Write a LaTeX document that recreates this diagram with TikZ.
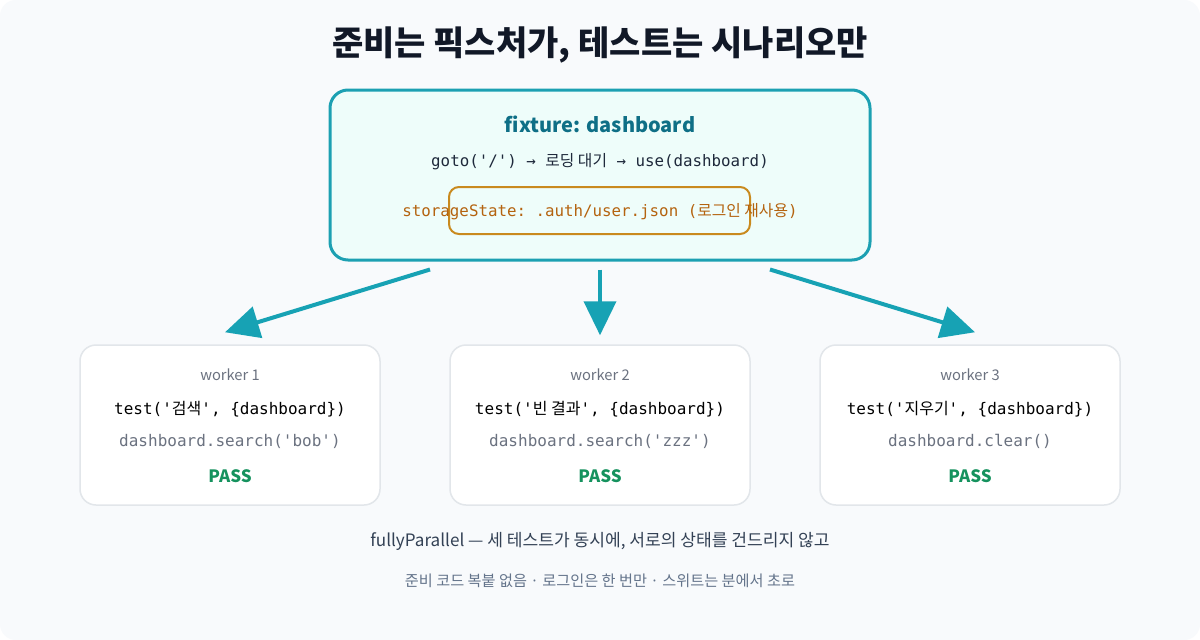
\documentclass[tikz,border=0pt]{standalone}
\usepackage{fontspec}
\setmainfont{Noto Sans CJK KR}
\setmonofont{DejaVu Sans Mono}
\newfontfamily\kr{Noto Sans CJK KR}
\usetikzlibrary{arrows.meta}
\definecolor{bgc}{HTML}{F8FAFC}
\definecolor{titlec}{HTML}{111827}
\definecolor{tealb}{HTML}{1CA0B2}
\definecolor{tealfill}{HTML}{EEFDFA}
\definecolor{tealtxt}{HTML}{0E6F86}
\definecolor{codec}{HTML}{1E293B}
\definecolor{orangeb}{HTML}{C98A1E}
\definecolor{orangetxt}{HTML}{B4630F}
\definecolor{wborder}{HTML}{E2E6EA}
\definecolor{graytxt}{HTML}{6B7280}
\definecolor{passc}{HTML}{15925E}
\definecolor{note1}{HTML}{334155}
\definecolor{note2}{HTML}{64748B}
\definecolor{arrowc}{HTML}{17A2B4}
\tikzset{
  fixbox/.style={draw=tealb, line width=3pt, fill=tealfill, rounded corners=18pt, minimum width=540pt, minimum height=170pt, inner sep=0pt},
  authbox/.style={draw=orangeb, line width=2pt, rounded corners=10pt, minimum width=301pt, minimum height=47pt, inner sep=0pt},
  workerbox/.style={draw=wborder, line width=1.5pt, fill=white, rounded corners=16pt, minimum width=300pt, minimum height=160pt, inner sep=0pt},
  txt/.style={inner sep=0pt, anchor=center},
  flow/.style={draw=arrowc, line width=4pt, -{Triangle[length=34pt,width=32pt]}},
}
\begin{document}
\begin{tikzpicture}[x=1pt,y=-1pt]
\fill[white] (0,0) rectangle (1200,640);
\useasboundingbox (0,0) rectangle (1200,640);
\fill[bgc, rounded corners=16pt] (0,0) rectangle (1200,640);

\node[txt, font=\fontsize{34pt}{38pt}\selectfont\bfseries, text=titlec] (title) at (600,45) {준비는 픽스처가, 테스트는 시나리오만};

\node[fixbox] (fix) at (600,175) {};
\node[txt, font=\fontsize{20pt}{24pt}\selectfont\bfseries, text=tealtxt] (fixt) at (600,124) {fixture: dashboard};
\node[txt, font=\fontsize{15.8pt}{19pt}\selectfont\ttfamily, text=codec] (fixs) at (600,162) {goto('/') → {\kr 로딩 대기} → use(dashboard)};
\node[authbox] (auth) at (599.5,210.5) {};
\node[txt, font=\fontsize{15.8pt}{19pt}\selectfont\ttfamily, text=orangetxt] (autht) at (600,212) {storageState: .auth/user.json ({\kr 로그인 재사용})};

\foreach \i/\x/\lbl/\tst/\act in {
  1/230/worker 1/{test('{\kr 검색}', \{dashboard\})}/{dashboard.search('bob')},
  2/600/worker 2/{test('{\kr 빈 결과}', \{dashboard\})}/{dashboard.search('zzz')},
  3/970/worker 3/{test('{\kr 지우기}', \{dashboard\})}/{dashboard.clear()}}{
  \node[workerbox] (w\i) at (\x,425) {};
  \node[txt, font=\fontsize{14.7pt}{17pt}\selectfont, text=graytxt] (w\i l) at (\x,375) {\lbl};
  \node[txt, font=\fontsize{16pt}{19pt}\selectfont\ttfamily, text=black] (w\i t) at (\x,409) {\tst};
  \node[txt, font=\fontsize{16pt}{19pt}\selectfont\ttfamily, text=graytxt] (w\i a) at (\x,441) {\act};
  \node[txt, font=\fontsize{17pt}{20pt}\selectfont\bfseries, text=passc] (w\i p) at (\x,476) {PASS};
}

\draw[flow] ([xshift=-170pt,yshift=-8pt]fix.south) -- ([xshift=-5pt,yshift=12pt]w1.north);
\draw[flow] ([yshift=-8pt]fix.south) -- ([yshift=9pt]w2.north);
\draw[flow] ([xshift=170pt,yshift=-8pt]fix.south) -- ([xshift=5pt,yshift=12pt]w3.north);

\node[txt, font=\fontsize{17.1pt}{20pt}\selectfont, text=note1] (n1) at (600,541) {fullyParallel — 세 테스트가 동시에, 서로의 상태를 건드리지 않고};
\node[txt, font=\fontsize{15.2pt}{18pt}\selectfont, text=note2] (n2) at (600,581) {준비 코드 복붙 없음 · 로그인은 한 번만 · 스위트는 분에서 초로};
\end{tikzpicture}
\end{document}
